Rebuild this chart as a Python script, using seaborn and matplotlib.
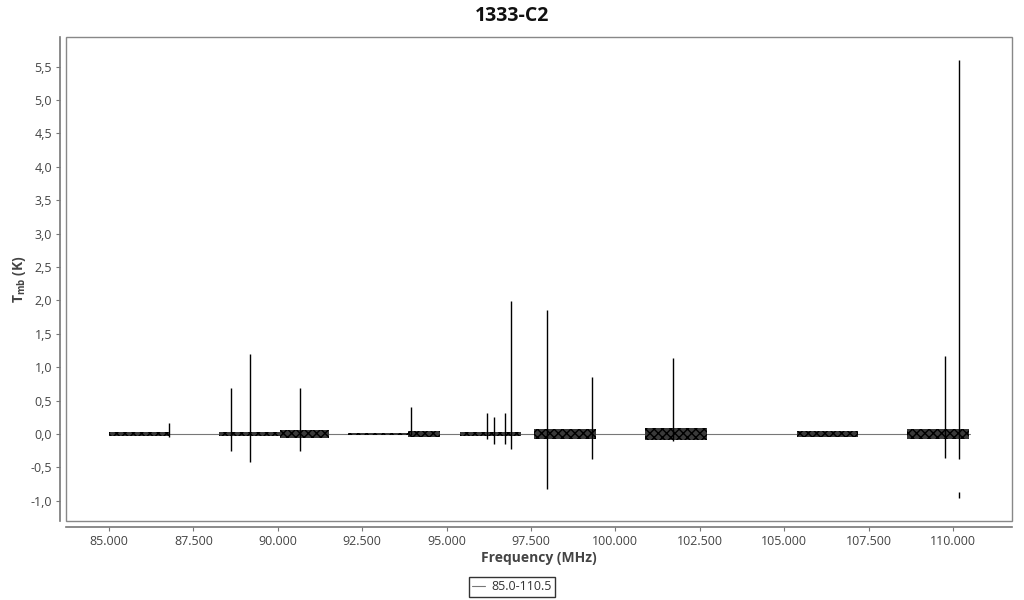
import numpy as np
import pandas as pd
import matplotlib
matplotlib.use('Agg')
import matplotlib.pyplot as plt
import seaborn as sns
from matplotlib.patches import Rectangle

# datos
titulo = '1333-C2'
serie = '85.0-110.5'
linea_freq = [85000, 110500]
linea_t = [0.0, 0.0]

# bandas de ruido: inicio, fin, amplitud (K)
banda_ini = [85000, 88260, 90060, 92080, 93860, 95400, 97590, 100880, 105370, 108650]
banda_fin = [86780, 90060, 91520, 93860, 94805, 97195, 99430, 102700, 107200, 110470]
banda_amp = [0.035, 0.025, 0.06, 0.02, 0.05, 0.035, 0.075, 0.09, 0.05, 0.08]

# lineas espectrales: frecuencia, maximo, minimo
pico_freq = [86780, 88620, 89180, 90660, 93950, 96200, 96400, 96730, 96910, 97975, 99310, 101710, 109765, 110180, 110180]
pico_max = [0.16, 0.69, 1.20, 0.69, 0.41, 0.31, 0.26, 0.31, 1.99, 1.86, 0.86, 1.14, 1.17, 5.60, -0.87]
pico_min = [-0.05, -0.25, -0.42, -0.25, -0.02, -0.08, -0.15, -0.15, -0.23, -0.82, -0.37, -0.10, -0.36, -0.37, -0.96]

yticks = [-1.0, -0.5, 0.0, 0.5, 1.0, 1.5, 2.0, 2.5, 3.0, 3.5, 4.0, 4.5, 5.0, 5.5]
xticks = [85000, 87500, 90000, 92500, 95000, 97500, 100000, 102500, 105000, 107500, 110000]

sns.set_style('white')
plt.rcParams['font.family'] = ['Open Sans', 'DejaVu Sans']
plt.rcParams['mathtext.fontset'] = 'custom'
plt.rcParams['mathtext.rm'] = 'Open Sans'
plt.rcParams['mathtext.bf'] = 'Open Sans:bold'

fig = plt.figure(figsize=(10.24, 6), dpi=100)
ax = fig.add_axes([66/1024, 79/600, 946/1024, 484/600])

df = pd.DataFrame({'freq': linea_freq, 't': linea_t})
sns.lineplot(data=df, x='freq', y='t', ax=ax, color='#777777', linewidth=0.8, label=serie)

# ruido: relleno oscuro con trama para imitar la textura
for a, b, amp in zip(banda_ini, banda_fin, banda_amp):
    ax.fill_between([a, b], [-amp, -amp], [amp, amp], facecolor='#3a3a3a',
                    edgecolor='black', hatch='xxxx', linewidth=0, zorder=3)

ax.vlines(pico_freq, pico_min, pico_max, color='black', linewidth=1.0, zorder=4)

ax.set_xlim(83726, 111748)
ax.set_ylim(-1.302, 5.943)
ax.set_yticks(yticks)
ax.set_yticklabels([f'{v:.1f}'.replace('.', ',') for v in yticks])
ax.set_xticks(xticks)
ax.set_xticklabels([f'{v:,}'.replace(',', '.') for v in xticks])

for s in ['top', 'right']:
    ax.spines[s].set_visible(False)
for s in ['left', 'bottom']:
    ax.spines[s].set_position(('outward', 4))
    ax.spines[s].set_color('#777777')
    ax.spines[s].set_linewidth(1.2)
ax.add_patch(Rectangle((0, 0), 1, 1, transform=ax.transAxes, fill=False,
                       edgecolor='#888888', linewidth=1.0, clip_on=False, zorder=5))

ax.tick_params(axis='both', which='major', length=3, width=0.8, color='#777777',
               labelsize=9, labelcolor='#444444', pad=3, left=True, bottom=True)

ax.set_xlabel('Frequency (MHz)', fontsize=10, fontweight='bold', color='#444444', labelpad=2)
ax.set_ylabel(r'$\mathbf{T_{mb}}$ (K)', fontsize=10, fontweight='bold', color='#444444', labelpad=2)
fig.suptitle(titulo, fontsize=14, fontweight='bold', x=0.5, y=1-16/600, va='center', color='#111111')

ax.get_legend().remove()
h, l = ax.get_legend_handles_labels()
leg = fig.legend(h, l, loc='center', bbox_to_anchor=(512/1024, 1-587/600), frameon=True,
                 fancybox=False, fontsize=9, handlelength=1.0, handletextpad=0.5,
                 borderpad=0.3, labelcolor='#333333')
leg.get_frame().set_edgecolor('black')
leg.get_frame().set_linewidth(1.0)

fig.savefig('out.png', dpi=100)
